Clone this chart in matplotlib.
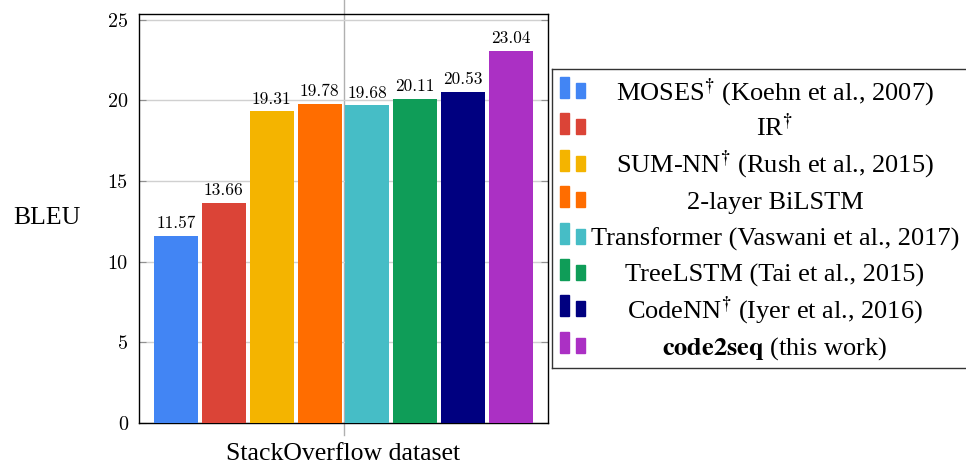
import matplotlib
matplotlib.use('Agg')
import matplotlib.pyplot as plt
import numpy as np
from matplotlib.patches import Rectangle

plt.rcParams['mathtext.fontset'] = 'stix'

models = ['MOSES$^{\\dagger}$ (Koehn et al., 2007)',
          'IR$^{\\dagger}$',
          'SUM-NN$^{\\dagger}$ (Rush et al., 2015)',
          '2-layer BiLSTM',
          'Transformer (Vaswani et al., 2017)',
          'TreeLSTM (Tai et al., 2015)',
          'CodeNN$^{\\dagger}$ (Iyer et al., 2016)',
          '$\\mathbf{code2seq}$ (this work)']
bleu = [11.57, 13.66, 19.31, 19.78, 19.68, 20.11, 20.53, 23.04]
colors = ['#4285F4', '#DB4437', '#F4B400', '#FF6D00',
          '#46BDC6', '#0F9D58', '#000080', '#AB30C4']
yticks = [0, 5, 10, 15, 20, 25]

W, H = 966, 471
fig = plt.figure(figsize=(W / 100, H / 100), dpi=100)
ax = fig.add_axes([139 / W, (H - 423) / H, 409 / W, 409 / H])

x = np.arange(len(bleu))
ax.bar(x, bleu, width=0.92, color=colors, zorder=3)
for xi, v in zip(x, bleu):
    ax.text(xi, v + 0.3, f'{v:.2f}', ha='center', va='bottom',
            family='cmr10', fontsize=12.5, zorder=4)

ax.set_xlim(-0.773, 7.773)
ax.set_ylim(0, 25.35)
ax.set_yticks(yticks)
ax.set_xticks([])
ax.grid(axis='y', color='#d0d0d0', lw=1, zorder=0)
ax.tick_params(axis='y', direction='in', left=True, right=True, length=5,
               color='#909090', labelsize=14.5, pad=8)
for lab in ax.get_yticklabels():
    lab.set_family('cmr10')
for s in ax.spines.values():
    s.set_linewidth(1)
    s.set_color('black')

# center tick / grid line running past the frame
ax.axvline(3.5, ymin=-0.03, ymax=1.04, color='#b0b0b0', lw=1,
           clip_on=False, zorder=1)

ax.set_ylabel('BLEU', rotation=0, family='Liberation Serif', fontsize=18.5,
              ha='center', va='center')
ax.yaxis.set_label_coords(-0.225, 0.501)
ax.set_xlabel('StackOverflow dataset', family='Liberation Serif', fontsize=18.5,
              va='center')
ax.xaxis.set_label_coords(0.5, -0.076)

# legend drawn in pixel coordinates
lg = fig.add_axes([552 / W, (H - 368) / H, 440 / W, (368 - 69) / H])
lg.set_xlim(552, 992)
lg.set_ylim(368, 69)
lg.set_xticks([])
lg.set_yticks([])
for s in lg.spines.values():
    s.set_linewidth(1)
    s.set_color('#333333')
for i, (name, c) in enumerate(zip(models, colors)):
    base = 98 + i * 36.4
    lg.add_patch(Rectangle((560, base - 21), 9, 21, color=c))
    lg.add_patch(Rectangle((576, base - 15), 9, 15, color=c))
    lg.text(775, base + 2, name.replace('$^{\\dagger}$', '$^{\\mathbf{\\dagger}}$'),
            ha='center', va='baseline',
            family='Liberation Serif', fontsize=19)

fig.savefig('out.png', dpi=100)
